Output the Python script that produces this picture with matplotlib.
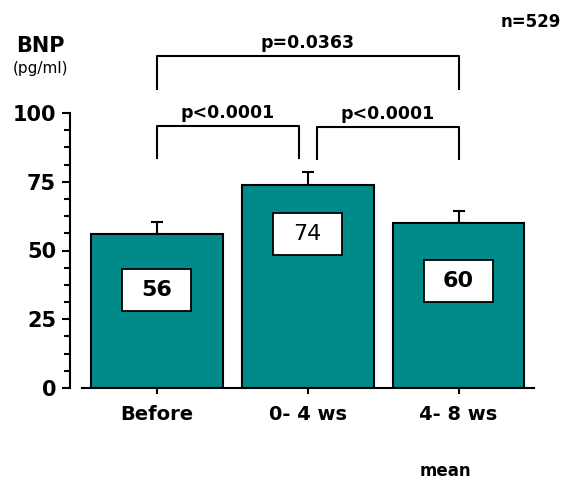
import matplotlib.pyplot as plt
from matplotlib.patches import Rectangle
from matplotlib.ticker import MultipleLocator

# data
groups = ['Before', '0- 4 ws', '4- 8 ws']
means = [56, 74, 60]
sem_upper = [4.5, 4.6, 4.4]
label_y = [35.6, 56, 38.9]

# pairwise comparisons: (bracket left x, bracket right x, p text, bracket top)
comparisons = [
    (0.0, 0.942, 'p<0.0001', 95.3),
    (1.06, 2.0, 'p<0.0001', 95.0),
    (0.0, 2.0, 'p=0.0363', 120.7),
]

W, H = 568, 483
fig = plt.figure(figsize=(W / 100, H / 100), dpi=100)
ax = fig.add_axes([70 / W, (H - 388) / H, (534 - 70) / W, (388 - 113) / H])

teal = '#008b8a'
x = list(range(len(groups)))
ax.bar(x, means, width=0.874, color=teal, edgecolor='black', linewidth=1.5, zorder=2)
ax.errorbar(x, means, yerr=[[0] * len(means), sem_upper], fmt='none',
            ecolor='black', elinewidth=1.5, capsize=4, capthick=1.5, zorder=1)

# white value boxes inside the bars
box_w, box_h = 0.46, 15.3
for xi, v, ly in zip(x, means, label_y):
    ax.add_patch(Rectangle((xi - box_w / 2, ly - box_h / 2), box_w, box_h,
                           facecolor='white', edgecolor='black', linewidth=1.3, zorder=3))
    ax.text(xi, ly, f'{v}', ha='center', va='center', fontsize=16,
            fontweight='bold' if v != 74 else 'normal', zorder=4)

# significance brackets
for xa, xb, txt, top in comparisons:
    drop = 11.7 if top < 100 else 12.0
    ax.plot([xa, xa, xb, xb], [top - drop, top, top, top - drop],
            color='black', lw=1.5, clip_on=False)
    ax.text((xa + xb) / 2, top + 1.5, txt, ha='center', va='bottom',
            fontsize=12.5, fontweight='bold', clip_on=False)

ax.set_xlim(-0.574, 2.5)
ax.set_ylim(0, 100)
ax.set_yticks([0, 25, 50, 75, 100])
ax.yaxis.set_minor_locator(MultipleLocator(6.25))
ax.set_xticks(x)
ax.set_xticklabels(groups, fontsize=14, fontweight='bold')
ax.tick_params(axis='y', which='major', length=6, width=1.5, labelsize=15, pad=4)
ax.tick_params(axis='y', which='minor', length=4, width=1.5)
ax.tick_params(axis='x', length=4, width=1.5, pad=8)
for lab in ax.get_yticklabels():
    lab.set_fontweight('bold')

ax.spines['top'].set_visible(False)
ax.spines['right'].set_visible(False)
ax.spines['left'].set_linewidth(1.5)
ax.spines['bottom'].set_linewidth(1.5)
ax.spines['bottom'].set_bounds(-0.495, 2.5)

fig.text(40 / W, 1 - 46 / H, 'BNP', ha='center', va='center', fontsize=15, fontweight='bold')
fig.text(40 / W, 1 - 69 / H, '(pg/ml)', ha='center', va='center', fontsize=11)
fig.text(531 / W, 1 - 22 / H, 'n=529', ha='center', va='center', fontsize=12, fontweight='bold')
fig.text(445 / W, 1 - 471 / H, 'mean', ha='center', va='center', fontsize=12, fontweight='bold')

fig.savefig('out.png', dpi=100)
